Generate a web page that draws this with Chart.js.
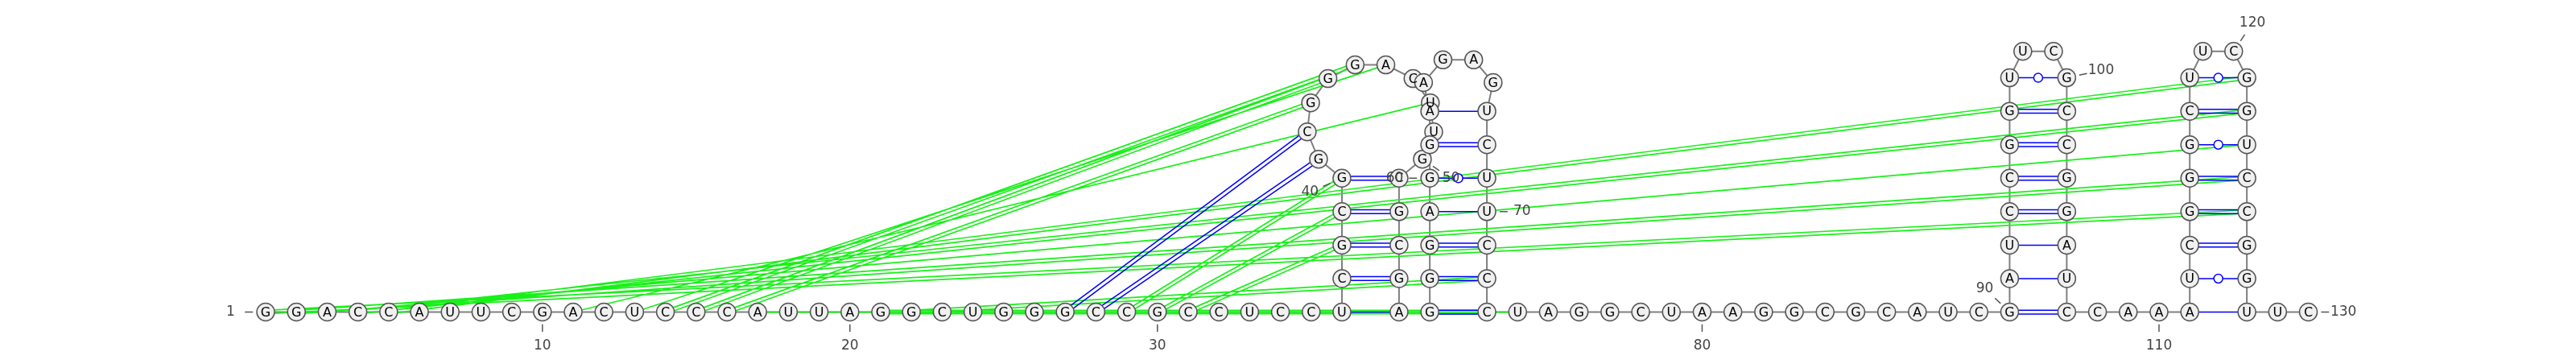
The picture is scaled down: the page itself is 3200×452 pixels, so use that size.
<!DOCTYPE html>
<html>
<head>
<meta charset="utf-8">
<script src="https://cdn.jsdelivr.net/npm/chart.js@4.4.1/dist/chart.umd.min.js"></script>
<style>
  html, body { margin: 0; padding: 0; background: #fff; }
  #wrap { width: 3200px; height: 452px; position: relative; }
</style>
</head>
<body>
<div id="wrap"><canvas id="rna"></canvas></div>
<script>
// sequence 5' -> 3', ten bases per chunk
const bases = ('GGACCAUUCG' + 'ACUCCCAUUA' + 'GGCUGGGCCG' + 'CCUCCUCGCG' +
  'GCGGGACUUG' + 'CGCGAGGGAG' + 'GAAGAGUCUU' + 'CCCUAGGCUA' +
  'AGGCGCAUCG' + 'AUCCGGUUCG' + 'CCGGAUCCAA' + 'AUCGGGCUUC' + 'GGUCCGGUUC').split('');

// reference structure (blue), nested helices
const stemPairs = [
  [36, 55], [37, 54], [38, 53], [39, 52], [40, 51],
  [56, 73], [57, 72], [58, 71], [59, 70], [60, 69], [61, 68], [62, 67],
  [90, 107], [91, 106], [92, 105], [93, 104], [94, 103], [95, 102], [96, 101], [97, 100],
  [111, 128], [112, 127], [113, 126], [114, 125], [115, 124], [116, 123], [117, 122], [118, 121]
];
// reference pseudoknot (blue, drawn across)
const knotPairs = [[27, 42], [28, 41]];
// second structure (green)
const altPairs = [
  [1, 125], [2, 124], [3, 123], [4, 122], [5, 121],
  [11, 48], [13, 46], [14, 45], [15, 44], [16, 43],
  [17, 74], [21, 73], [22, 72],
  [29, 40], [30, 39], [31, 38]
];
// numbered positions
const numbered = [1, 10, 20, 30, 40, 50, 60, 70, 80, 90, 100, 110, 120, 130];

// layout constants (chart units = pixels)
const STEP = 38.5, STEM_W = 71.5, RISE = 44, X0 = 320, Y0 = 397;

function layout() {
  const n = bases.length;
  const partner = new Array(n + 2).fill(0);
  stemPairs.forEach(([i, j]) => { partner[i] = j; partner[j] = i; });
  const pos = new Array(n + 1);
  const ref = new Array(n + 1);
  let x = X0;
  let i = 1;
  while (i <= n) {
    if (partner[i] > i) {
      let a = i, b = partner[i], y = Y0;
      const xl = x, xr = x + STEM_W;
      while (true) {
        pos[a] = { x: xl, y: y };
        pos[b] = { x: xr, y: y };
        if (partner[a + 1] === b - 1) { a++; b--; y -= RISE; } else break;
      }
      // hairpin loop on a circle
      const m = b - a - 1;
      const f = R => (m + 1) * 2 * Math.asin(STEP / 2 / R) + 2 * Math.asin(STEM_W / 2 / R) - 2 * Math.PI;
      let lo = STEM_W / 2, hi = 2000;
      for (let k = 0; k < 80; k++) {
        const mid = (lo + hi) / 2;
        if (f(mid) > 0) lo = mid; else hi = mid;
      }
      const R = (lo + hi) / 2;
      const c = { x: xl + STEM_W / 2, y: y - Math.sqrt(R * R - STEM_W * STEM_W / 4) };
      const da = 2 * Math.asin(STEP / 2 / R);
      let t = Math.atan2(y - c.y, xl - c.x);
      for (let k = a + 1; k < b; k++) {
        t += da;
        pos[k] = { x: c.x + R * Math.cos(t), y: c.y + R * Math.sin(t) };
        ref[k] = c;
      }
      x = xr + STEP;
      i = partner[i] + 1;
    } else {
      pos[i] = { x: x, y: Y0 };
      ref[i] = { x: x, y: Y0 - 100 };
      x += STEP;
      i++;
    }
  }
  for (let k = 1; k <= n; k++) if (partner[k]) ref[k] = pos[partner[k]];
  return { pos, ref };
}

const { pos, ref } = layout();
const N = bases.length;

function pairKind(i, j) {
  const p = bases[i - 1] + bases[j - 1];
  if (p === 'GC' || p === 'CG') return 'double';
  if (p === 'GU' || p === 'UG') return 'wobble';
  return 'single';
}

function segments(pairs, gap) {
  const out = [];
  pairs.forEach(([i, j]) => {
    const a = pos[i], b = pos[j];
    const dx = b.x - a.x, dy = b.y - a.y, len = Math.hypot(dx, dy);
    const nx = -dy / len, ny = dx / len;
    const offs = pairKind(i, j) === 'double' ? [-gap / 2, gap / 2] : [0];
    offs.forEach(o => {
      out.push({ x: a.x + nx * o, y: a.y + ny * o });
      out.push({ x: b.x + nx * o, y: b.y + ny * o });
      out.push({ x: b.x, y: null });
    });
  });
  return out;
}

const wobbles = stemPairs.concat(knotPairs)
  .filter(([i, j]) => pairKind(i, j) === 'wobble')
  .map(([i, j]) => ({ x: (pos[i].x + pos[j].x) / 2, y: (pos[i].y + pos[j].y) / 2 }));

// label direction for a numbered base: outward from its pair / loop
function labelDir(k) {
  const p = pos[k];
  const unit = q => { const dx = q.x - p.x, dy = q.y - p.y, l = Math.hypot(dx, dy); return { x: dx / l, y: dy / l }; };
  const nb = [];
  if (k > 1) nb.push(unit(pos[k - 1]));
  if (k < N) nb.push(unit(pos[k + 1]));
  if (nb.length === 1) return { x: -nb[0].x, y: -nb[0].y };
  let d = { x: nb[0].x + nb[1].x, y: nb[0].y + nb[1].y };
  if (Math.hypot(d.x, d.y) < 0.1) d = { x: -(nb[1].y - nb[0].y), y: nb[1].x - nb[0].x };
  const l = Math.hypot(d.x, d.y);
  d = { x: d.x / l, y: d.y / l };
  const r = ref[k];
  if (d.x * (r.x - p.x) + d.y * (r.y - p.y) > 0) d = { x: -d.x, y: -d.y };
  return d;
}

const labels = numbered.map(k => {
  const d = labelDir(k), p = pos[k];
  return {
    text: String(k),
    tick: [{ x: p.x + d.x * 16, y: p.y + d.y * 16 }, { x: p.x + d.x * 26, y: p.y + d.y * 26 }],
    at: { x: p.x + d.x * 44, y: p.y + d.y * 44 }
  };
});
const tickData = [];
labels.forEach(l => { tickData.push(l.tick[0], l.tick[1], { x: l.tick[1].x, y: null }); });

const textPlugin = {
  id: 'baseText',
  afterDatasetsDraw(chart) {
    const ctx = chart.ctx, sx = chart.scales.x, sy = chart.scales.y;
    ctx.save();
    ctx.textAlign = 'center';
    ctx.textBaseline = 'middle';
    ctx.fillStyle = '#000';
    ctx.font = '16px "DejaVu Sans"';
    for (let k = 1; k <= N; k++) {
      ctx.fillText(bases[k - 1], sx.getPixelForValue(pos[k].x), sy.getPixelForValue(pos[k].y) + 1);
    }
    ctx.fillStyle = '#444';
    ctx.font = '17px "DejaVu Sans"';
    labels.forEach(l => ctx.fillText(l.text, sx.getPixelForValue(l.at.x), sy.getPixelForValue(l.at.y)));
    ctx.restore();
  }
};

new Chart(document.getElementById('rna'), {
  type: 'scatter',
  data: {
    datasets: [
      {
        label: 'backbone',
        data: pos.slice(1),
        showLine: true,
        borderColor: '#808080',
        borderWidth: 2,
        pointRadius: 0,
        order: 7
      },
      {
        label: 'alternative pairs',
        data: segments(altPairs, 4.4),
        showLine: true,
        spanGaps: false,
        borderColor: '#19f019',
        borderWidth: 1.7,
        pointRadius: 0,
        order: 6
      },
      {
        label: 'reference pairs',
        data: segments(stemPairs.concat(knotPairs), 5),
        showLine: true,
        spanGaps: false,
        borderColor: '#0000ff',
        borderWidth: 1.5,
        pointRadius: 0,
        order: 5
      },
      {
        label: 'wobble',
        data: wobbles,
        pointRadius: 5.5,
        pointBackgroundColor: '#ffffff',
        pointBorderColor: '#0000ff',
        pointBorderWidth: 1.5,
        order: 4
      },
      {
        label: 'ticks',
        data: tickData,
        showLine: true,
        spanGaps: false,
        borderColor: '#555555',
        borderWidth: 1.5,
        pointRadius: 0,
        order: 3
      },
      {
        label: 'bases',
        data: pos.slice(1),
        pointRadius: 11,
        pointBackgroundColor: '#f0f0f0',
        pointBorderColor: '#555555',
        pointBorderWidth: 1.5,
        order: 1
      }
    ]
  },
  options: {
    responsive: true,
    maintainAspectRatio: false,
    animation: false,
    events: [],
    layout: { padding: 0 },
    plugins: { legend: { display: false }, tooltip: { enabled: false } },
    scales: {
      x: { type: 'linear', min: 0, max: 3200, display: false },
      y: { type: 'linear', min: 0, max: 452, reverse: true, display: false }
    }
  },
  plugins: [textPlugin]
});
</script>
</body>
</html>
